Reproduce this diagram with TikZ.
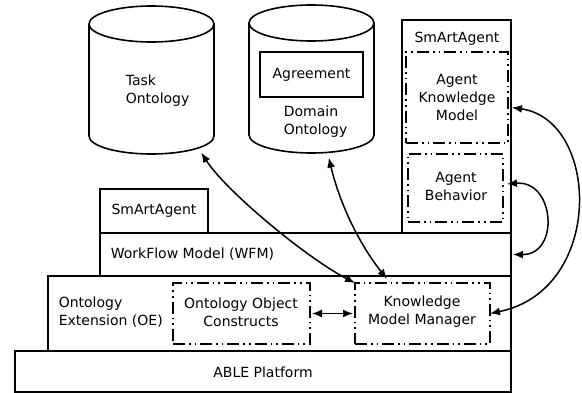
\documentclass[tikz,border=0pt]{standalone}
\usepackage{fontspec}
\setmainfont{DejaVu Sans}
\usetikzlibrary{arrows.meta,calc}
\begin{document}
\begin{tikzpicture}[x=1pt,y=-1pt,line width=1.6pt,
  box/.style={draw,line width=1.6pt,inner sep=0pt,outer sep=0pt,anchor=north west,align=center,font=\fontsize{14}{18}\selectfont},
  ddbox/.style={box,dash pattern=on 12pt off 4pt on 1.6pt off 4pt on 1.6pt off 4pt},
  lbl/.style={inner sep=0pt,align=left,font=\fontsize{14}{18}\selectfont},
  conn/.style={{Latex[length=10pt,width=8pt]}-{Latex[length=10pt,width=8pt]},line width=1.5pt},
]
\useasboundingbox (0,0) rectangle (582,393);
% cylinders
\draw (89,24) -- (89,136) arc[start angle=180,end angle=0,x radius=62.5,y radius=18] -- (214,24);
\draw (151.5,24) ellipse[x radius=62.5,y radius=18];
\node (task) [inner sep=0pt,minimum width=125,minimum height=148,anchor=north west] at (89,6) {};
\draw (249,23) -- (249,135) arc[start angle=180,end angle=0,x radius=62.5,y radius=18] -- (374,23);
\draw (311.5,23) ellipse[x radius=62.5,y radius=18];
\node (domain) [inner sep=0pt,minimum width=125,minimum height=148,anchor=north west] at (249,5) {};
\node (tasklbl) [lbl,anchor=west] at (125,91) {Task\\Ontology};
\node (domlbl) [lbl,anchor=west] at (283,122) {Domain\\Ontology};
\node (agree) [box,minimum width=103,minimum height=45] at (260,52) {Agreement};
% layers
\node (able) [box,minimum width=496,minimum height=41] at (15,351) {};
\node (oe) [box,minimum width=463,minimum height=75] at (48,276) {};
\node (wfm) [box,minimum width=411,minimum height=43] at (100,233) {};
\node (sa1) [box,minimum width=108,minimum height=44] at (100,189) {SmArtAgent};
\node (sa2) [box,minimum width=109,minimum height=213] at (402,20) {};
\node (akm) [ddbox,minimum width=102,minimum height=91] at (406,52) {Agent\\Knowledge\\Model};
\node (ab) [ddbox,minimum width=95,minimum height=68] at (408,154) {};
\node (ooc) [ddbox,minimum width=137,minimum height=61] at (173,283) {};
\node (kmm) [ddbox,minimum width=135,minimum height=61] at (355,283) {};
% labels
\node (sa2lbl) [lbl] at (457,39) {SmArtAgent};
\node (ablbl) [lbl,align=center] at (456,186) {Agent\\Behavior};
\node (ablelbl) [lbl] at (263,372) {ABLE Platform};
\node (wfmlbl) [lbl,anchor=west] at (110,254) {WorkFlow Model (WFM)};
\node (oelbl) [lbl,anchor=west] at (58,312) {Ontology\\Extension (OE)};
\node (ooclbl) [lbl,align=center] at (241,312) {Ontology Object\\Constructs};
\node (kmmlbl) [lbl,align=center] at (422,312) {Knowledge\\Model Manager};
% connectors
\draw[conn] ($(task.south)+(49,-3)$) .. controls (225,190) and (305,257) .. (kmm.north west);
\draw[conn] ($(domain.south)+(16.5,3)$) .. controls (340,205) and (360,245) .. ($(kmm.north west)+(32,-4)$);
\draw[conn] (kmm.east) .. controls (605,290) and (600,120) .. ($(akm.east)+(4,10)$);
\draw[conn] ($(ab.east)+(4,-4)$) .. controls (555,180) and (560,255) .. ($(wfm.east)+(2,0)$);
\draw[conn,shorten <=2pt,shorten >=2pt] (ooc.east) -- (kmm.west);
\end{tikzpicture}
\end{document}
